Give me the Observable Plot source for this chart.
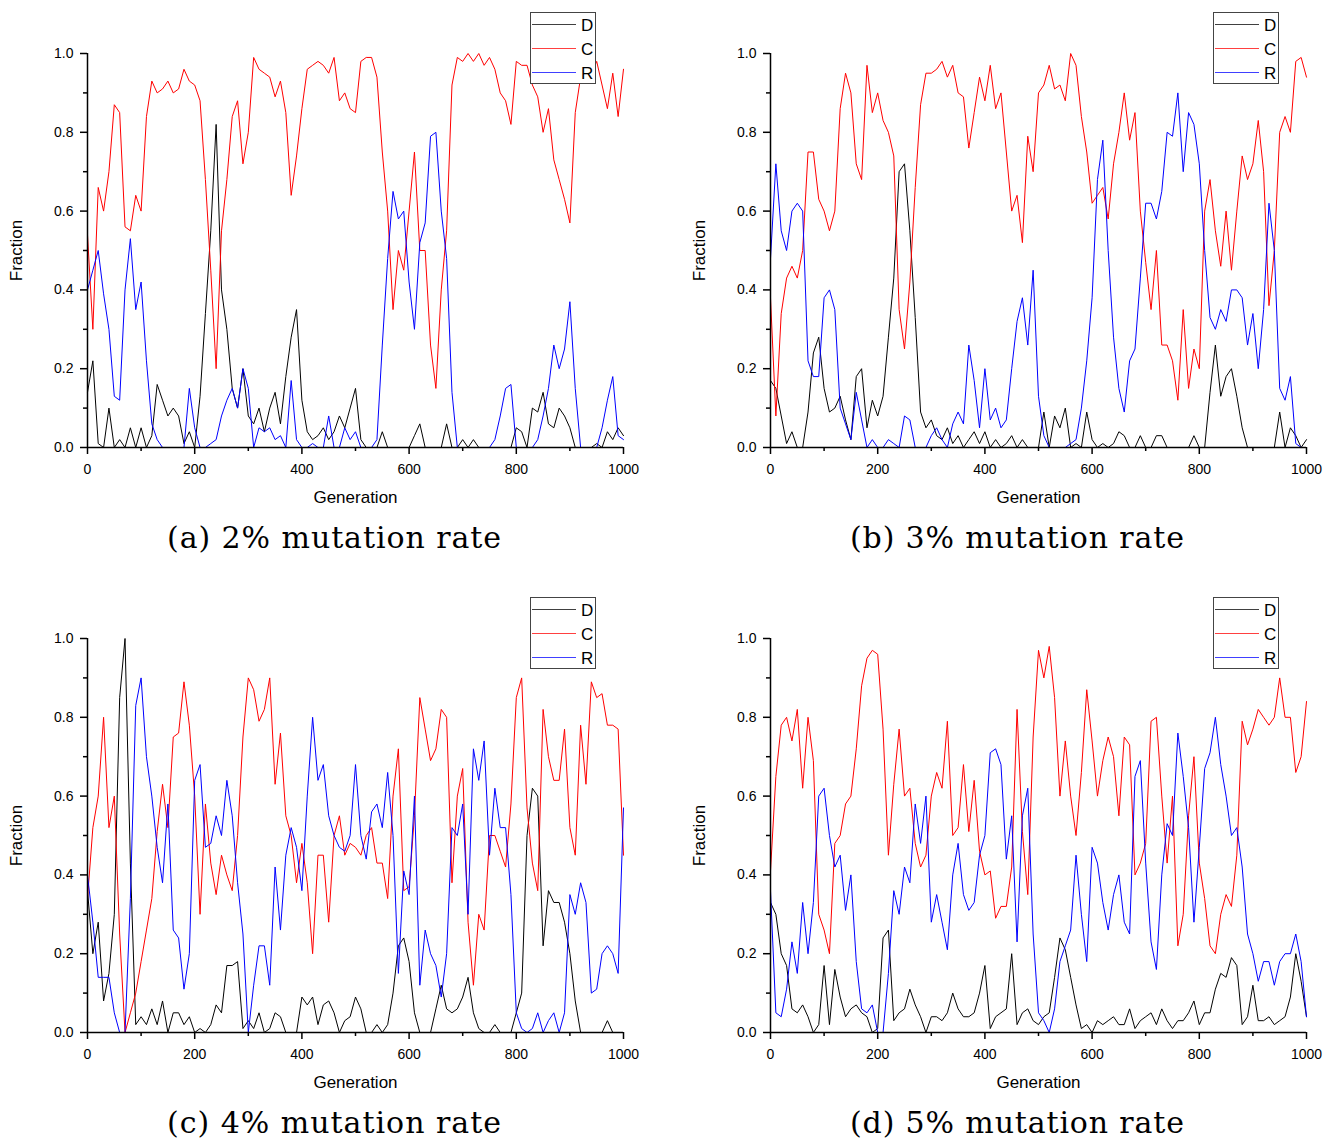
<!DOCTYPE html>
<html><head><meta charset="utf-8">
<script src="https://cdn.jsdelivr.net/npm/d3@7"></script>
<script src="https://cdn.jsdelivr.net/npm/@observablehq/plot@0.6"></script>
<style>
body{margin:0;background:#fff;}
#root{position:relative;width:1334px;height:1140px;background:#fff;overflow:hidden;}
.panel,.legend,.caption{position:absolute;}
</style></head><body><div id="root"></div>
<script>
const generations = d3.range(0, 1001, 10);

const a_D = [0.14,0.22,0.01,0.0,0.1,0.0,0.02,0.0,0.05,0.0,
0.05,0.0,0.03,0.16,0.12,0.08,0.1,0.08,0.01,0.04,
0.0,0.13,0.34,0.55,0.82,0.4,0.3,0.15,0.1,0.2,
0.08,0.06,0.1,0.04,0.1,0.14,0.06,0.18,0.28,0.35,
0.12,0.04,0.02,0.03,0.05,0.02,0.04,0.08,0.05,0.1,
0.15,0.02,0.0,0.0,0.0,0.04,0.0,0.0,0.0,0.0,
0.0,0.03,0.06,0.0,0.0,0.0,0.0,0.06,0.0,0.0,
0.02,0.0,0.02,0.0,0.0,0.0,0.0,0.0,0.0,0.0,
0.05,0.04,0.0,0.1,0.09,0.14,0.06,0.05,0.1,0.08,
0.05,0.0,0.0,0.0,0.0,0.01,0.0,0.04,0.02,0.05,
0.03];
const a_C = [0.54,0.3,0.66,0.6,0.7,0.87,0.85,0.56,0.55,0.64,
0.6,0.84,0.93,0.9,0.91,0.93,0.9,0.91,0.96,0.93,
0.92,0.88,0.68,0.45,0.2,0.55,0.68,0.84,0.88,0.72,
0.8,0.99,0.96,0.95,0.94,0.89,0.93,0.85,0.64,0.74,
0.86,0.96,0.97,0.98,0.97,0.95,0.99,0.88,0.9,0.86,
0.85,0.98,0.99,0.99,0.94,0.75,0.6,0.35,0.5,0.45,
0.6,0.75,0.5,0.5,0.26,0.15,0.4,0.55,0.92,0.99,
0.98,1.0,0.98,1.0,0.97,0.99,0.96,0.9,0.88,0.82,
0.98,0.97,0.97,0.92,0.89,0.8,0.86,0.73,0.68,0.63,
0.57,0.85,0.94,0.93,0.95,0.98,0.92,0.86,0.95,0.84,
0.96];
const a_R = [0.4,0.45,0.5,0.39,0.3,0.13,0.12,0.4,0.53,0.35,
0.42,0.22,0.06,0.02,0.0,0.0,0.0,0.0,0.0,0.15,
0.05,0.0,0.0,0.01,0.02,0.08,0.12,0.15,0.1,0.2,
0.15,0.0,0.05,0.04,0.05,0.02,0.03,0.0,0.17,0.02,
0.0,0.0,0.01,0.0,0.0,0.08,0.0,0.0,0.05,0.02,
0.04,0.0,0.0,0.0,0.02,0.26,0.48,0.65,0.58,0.6,
0.42,0.3,0.52,0.57,0.79,0.8,0.6,0.48,0.14,0.0,
0.0,0.0,0.0,0.0,0.0,0.0,0.02,0.08,0.15,0.16,
0.0,0.0,0.0,0.0,0.02,0.08,0.15,0.26,0.2,0.25,
0.37,0.15,0.0,0.0,0.0,0.0,0.05,0.12,0.18,0.03,
0.02];

const b_D = [0.17,0.15,0.08,0.01,0.04,0.0,0.0,0.09,0.24,0.28,
0.15,0.09,0.1,0.13,0.07,0.02,0.18,0.2,0.05,0.12,
0.08,0.13,0.28,0.43,0.7,0.72,0.55,0.33,0.09,0.05,
0.07,0.03,0.02,0.05,0.01,0.03,0.0,0.02,0.04,0.01,
0.04,0.0,0.02,0.0,0.01,0.03,0.0,0.02,0.0,0.0,
0.0,0.09,0.0,0.08,0.05,0.1,0.0,0.01,0.0,0.09,
0.02,0.0,0.01,0.0,0.01,0.04,0.03,0.0,0.0,0.03,
0.0,0.0,0.03,0.03,0.0,0.0,0.0,0.0,0.0,0.03,
0.0,0.0,0.14,0.26,0.13,0.18,0.2,0.13,0.05,0.0,
0.0,0.0,0.0,0.0,0.0,0.09,0.0,0.05,0.03,0.0,
0.02];
const b_C = [0.38,0.08,0.34,0.43,0.46,0.43,0.5,0.75,0.75,0.63,
0.6,0.55,0.6,0.86,0.95,0.9,0.72,0.68,0.97,0.85,
0.9,0.83,0.8,0.74,0.35,0.25,0.42,0.66,0.87,0.95,
0.95,0.96,0.98,0.94,0.97,0.9,0.89,0.76,0.85,0.94,
0.88,0.97,0.86,0.9,0.75,0.6,0.64,0.52,0.79,0.7,
0.9,0.92,0.97,0.91,0.92,0.88,1.0,0.97,0.84,0.75,
0.62,0.64,0.66,0.58,0.72,0.8,0.9,0.78,0.85,0.6,
0.47,0.35,0.5,0.26,0.26,0.22,0.12,0.35,0.15,0.25,
0.2,0.6,0.68,0.55,0.46,0.6,0.45,0.6,0.74,0.68,
0.72,0.83,0.7,0.36,0.5,0.8,0.84,0.8,0.98,0.99,
0.94];
const b_R = [0.48,0.72,0.55,0.5,0.6,0.62,0.6,0.22,0.18,0.18,
0.38,0.4,0.35,0.1,0.06,0.02,0.14,0.07,0.0,0.02,
0.0,0.0,0.02,0.01,0.0,0.08,0.07,0.0,0.0,0.0,
0.03,0.05,0.02,0.0,0.06,0.09,0.06,0.26,0.17,0.05,
0.2,0.07,0.1,0.05,0.07,0.2,0.32,0.38,0.26,0.45,
0.13,0.03,0.0,0.0,0.0,0.0,0.01,0.02,0.1,0.22,
0.38,0.68,0.78,0.5,0.28,0.15,0.09,0.22,0.25,0.43,
0.62,0.62,0.58,0.65,0.8,0.79,0.9,0.7,0.85,0.82,
0.72,0.5,0.33,0.3,0.35,0.32,0.4,0.4,0.38,0.26,
0.34,0.2,0.35,0.62,0.5,0.15,0.12,0.18,0.01,0.0,
0.0];

const c_D = [0.36,0.2,0.28,0.08,0.15,0.3,0.85,1.0,0.43,0.02,
0.04,0.02,0.06,0.02,0.08,0.0,0.05,0.05,0.02,0.04,
0.0,0.01,0.0,0.02,0.07,0.05,0.17,0.17,0.18,0.01,
0.03,0.01,0.05,0.0,0.01,0.05,0.04,0.0,0.0,0.0,
0.09,0.07,0.09,0.02,0.07,0.08,0.05,0.0,0.03,0.04,
0.09,0.06,0.0,0.0,0.02,0.0,0.02,0.1,0.22,0.24,
0.18,0.05,0.0,0.0,0.0,0.06,0.12,0.06,0.05,0.06,
0.09,0.14,0.05,0.01,0.0,0.0,0.02,0.0,0.0,0.0,
0.05,0.1,0.5,0.62,0.6,0.22,0.36,0.33,0.33,0.28,
0.2,0.08,0.0,0.0,0.0,0.0,0.0,0.03,0.0,0.0,
0.0];
const c_C = [0.34,0.52,0.6,0.8,0.52,0.6,0.25,0.0,0.05,0.1,
0.18,0.26,0.34,0.51,0.63,0.52,0.75,0.76,0.89,0.78,
0.6,0.3,0.58,0.43,0.35,0.45,0.4,0.36,0.5,0.75,
0.9,0.87,0.79,0.82,0.9,0.63,0.76,0.55,0.5,0.38,
0.48,0.38,0.2,0.45,0.45,0.28,0.5,0.55,0.45,0.48,
0.47,0.45,0.5,0.52,0.43,0.43,0.34,0.6,0.72,0.36,
0.37,0.55,0.85,0.77,0.69,0.72,0.82,0.8,0.38,0.6,
0.67,0.28,0.12,0.3,0.26,0.5,0.5,0.46,0.42,0.58,
0.85,0.9,0.57,0.43,0.36,0.82,0.7,0.64,0.64,0.77,
0.52,0.45,0.78,0.63,0.89,0.85,0.86,0.78,0.78,0.77,
0.45];
const c_R = [0.4,0.28,0.14,0.14,0.14,0.05,0.0,0.0,0.34,0.83,
0.9,0.7,0.6,0.47,0.38,0.58,0.26,0.24,0.11,0.2,
0.64,0.68,0.47,0.48,0.55,0.5,0.64,0.55,0.38,0.25,
0.0,0.12,0.22,0.22,0.12,0.42,0.26,0.45,0.52,0.47,
0.36,0.6,0.8,0.64,0.68,0.55,0.5,0.47,0.46,0.5,
0.68,0.5,0.44,0.56,0.58,0.52,0.66,0.5,0.15,0.41,
0.35,0.6,0.12,0.26,0.2,0.17,0.09,0.2,0.52,0.5,
0.58,0.3,0.72,0.64,0.74,0.45,0.62,0.52,0.52,0.35,
0.05,0.01,0.0,0.01,0.05,0.0,0.03,0.05,0.0,0.05,
0.35,0.3,0.38,0.33,0.1,0.11,0.2,0.22,0.2,0.15,
0.57];

const d_D = [0.33,0.3,0.2,0.17,0.06,0.05,0.07,0.04,0.0,0.02,
0.17,0.02,0.16,0.09,0.04,0.06,0.07,0.05,0.04,0.0,
0.01,0.24,0.26,0.03,0.05,0.06,0.11,0.07,0.04,0.0,
0.04,0.04,0.03,0.05,0.1,0.06,0.04,0.04,0.05,0.1,
0.17,0.01,0.04,0.05,0.06,0.2,0.02,0.05,0.06,0.03,
0.02,0.04,0.05,0.14,0.24,0.21,0.14,0.07,0.01,0.02,
0.0,0.03,0.02,0.03,0.04,0.02,0.02,0.06,0.01,0.03,
0.04,0.05,0.02,0.06,0.03,0.01,0.03,0.03,0.05,0.08,
0.02,0.05,0.05,0.11,0.15,0.14,0.19,0.17,0.02,0.04,
0.12,0.03,0.03,0.04,0.02,0.03,0.04,0.09,0.2,0.13,
0.04];
const d_C = [0.41,0.65,0.78,0.8,0.74,0.82,0.62,0.8,0.69,0.3,
0.26,0.2,0.48,0.5,0.58,0.6,0.72,0.88,0.95,0.97,
0.96,0.77,0.45,0.63,0.77,0.6,0.62,0.48,0.42,0.45,
0.6,0.66,0.62,0.79,0.5,0.52,0.68,0.51,0.64,0.46,
0.4,0.41,0.29,0.32,0.32,0.42,0.82,0.51,0.35,0.75,
0.97,0.9,0.98,0.85,0.6,0.74,0.6,0.5,0.66,0.87,
0.74,0.6,0.69,0.75,0.7,0.55,0.75,0.73,0.4,0.43,
0.48,0.79,0.8,0.6,0.43,0.6,0.22,0.3,0.55,0.7,
0.43,0.34,0.22,0.2,0.3,0.35,0.32,0.45,0.79,0.73,
0.77,0.82,0.8,0.78,0.8,0.9,0.8,0.8,0.66,0.7,
0.84];
const d_R = [0.36,0.05,0.04,0.11,0.23,0.15,0.33,0.2,0.33,0.6,
0.62,0.5,0.42,0.45,0.31,0.4,0.18,0.06,0.05,0.07,
0.0,0.0,0.15,0.36,0.3,0.42,0.38,0.58,0.48,0.6,
0.28,0.35,0.28,0.21,0.4,0.48,0.35,0.31,0.33,0.45,
0.5,0.71,0.72,0.68,0.44,0.55,0.23,0.55,0.62,0.25,
0.05,0.03,0.0,0.06,0.18,0.22,0.26,0.45,0.3,0.18,
0.47,0.43,0.33,0.26,0.35,0.4,0.28,0.25,0.65,0.69,
0.43,0.23,0.16,0.4,0.53,0.5,0.76,0.65,0.52,0.28,
0.47,0.67,0.71,0.8,0.68,0.6,0.5,0.52,0.42,0.25,
0.2,0.13,0.18,0.18,0.12,0.18,0.2,0.2,0.25,0.18,
0.04];

const seriesNames = ["D", "C", "R"];
const seriesColors = ["#000000", "#ff0000", "#0000ff"];
const xTicks = [0, 200, 400, 600, 800, 1000];
const xMinorTicks = [100, 300, 500, 700, 900];
const yTicks = [0, 0.2, 0.4, 0.6, 0.8, 1.0];
const yMinorTicks = [0.1, 0.3, 0.5, 0.7, 0.9];
const xLabel = "Generation";
const yLabel = "Fraction";
const captions = ["(a) 2% mutation rate", "(b) 3% mutation rate", "(c) 4% mutation rate", "(d) 5% mutation rate"];

const panels = [
  {left: 0,   top: 0,   series: {D: a_D, C: a_C, R: a_R}, caption: captions[0]},
  {left: 683, top: 0,   series: {D: b_D, C: b_C, R: b_R}, caption: captions[1]},
  {left: 0,   top: 585, series: {D: c_D, C: c_C, R: c_R}, caption: captions[2]},
  {left: 683, top: 585, series: {D: d_D, C: d_C, R: d_R}, caption: captions[3]}
];

const root = document.getElementById("root");
const SANS = "'Liberation Sans', Arial, Helvetica, sans-serif";
const NS = "http://www.w3.org/2000/svg";

function el(tag, attrs, parent) {
  const e = document.createElementNS(NS, tag);
  for (const k in attrs) e.setAttribute(k, attrs[k]);
  if (parent) parent.appendChild(e);
  return e;
}

panels.forEach(p => {
  const rows = [];
  seriesNames.forEach(s => p.series[s].forEach((v, i) => rows.push({g: generations[i], v, s})));
  const chart = Plot.plot({
    width: 650, height: 520,
    marginLeft: 87, marginRight: 27, marginTop: 53, marginBottom: 73,
    style: {fontFamily: SANS, fontSize: "14px", color: "black", background: "transparent", overflow: "visible"},
    x: {domain: [0, 1000]},
    y: {domain: [0, 1]},
    color: {domain: seriesNames, range: seriesColors},
    marks: [
      Plot.line(rows, {x: "g", y: "v", z: "s", stroke: "s", strokeWidth: 1}),
      Plot.axisX({ticks: xTicks, tickSize: 7, tickPadding: 10, strokeWidth: 1.5, label: null, fontSize: 14, tickFormat: d => String(d)}),
      Plot.axisX({ticks: xMinorTicks, tickSize: 4, text: null, strokeWidth: 1.5, label: null}),
      Plot.axisY({ticks: yTicks, tickSize: 7, tickPadding: 7, strokeWidth: 1.5, label: null, fontSize: 14, tickFormat: d3.format(".1f")}),
      Plot.axisY({ticks: yMinorTicks, tickSize: 4, text: null, strokeWidth: 1.5, label: null}),
      Plot.ruleY([0], {strokeWidth: 1.5}),
      Plot.ruleX([0], {strokeWidth: 1.5}),
      Plot.text([xLabel], {text: d => d, frameAnchor: "bottom", lineAnchor: "middle", textAnchor: "middle", dy: 50, fontSize: 17}),
      Plot.text([yLabel], {text: d => d, frameAnchor: "left", lineAnchor: "middle", textAnchor: "middle", dx: -71, rotate: -90, fontSize: 17})
    ]
  });
  chart.classList.add("panel");
  chart.style.left = p.left + "px";
  chart.style.top = p.top + "px";
  root.appendChild(chart);

  // legend box (top right, overlapping the plot like the original)
  const lg = el("svg", {width: 68, height: 74, class: "legend"});
  lg.style.left = (p.left + 530) + "px";
  lg.style.top = (p.top + 11) + "px";
  el("rect", {x: 0.5, y: 1.5, width: 65, height: 71, fill: "white", stroke: "#444", "stroke-width": 1}, lg);
  seriesNames.forEach((s, k) => {
    const yy = 13.5 + k * 24;
    el("line", {x1: 2, x2: 46, y1: yy, y2: yy, stroke: seriesColors[k], "stroke-width": 1, "stroke-opacity": 0.75}, lg);
    const t = el("text", {x: 51, y: yy + 6, "font-family": SANS, "font-size": 17, fill: "black"}, lg);
    t.textContent = s;
  });
  root.appendChild(lg);

  // caption below
  const cap = el("svg", {width: 420, height: 44, class: "caption"});
  cap.style.left = (p.left + 165) + "px";
  cap.style.top = (p.top + 516) + "px";
  const ct = el("text", {x: 2, y: 32, "font-family": "'DejaVu Serif', 'Liberation Serif', serif", "font-size": 30, fill: "black", textLength: 334, lengthAdjust: "spacing"}, cap);
  ct.textContent = p.caption;
  root.appendChild(cap);
});
</script>
</body></html>
